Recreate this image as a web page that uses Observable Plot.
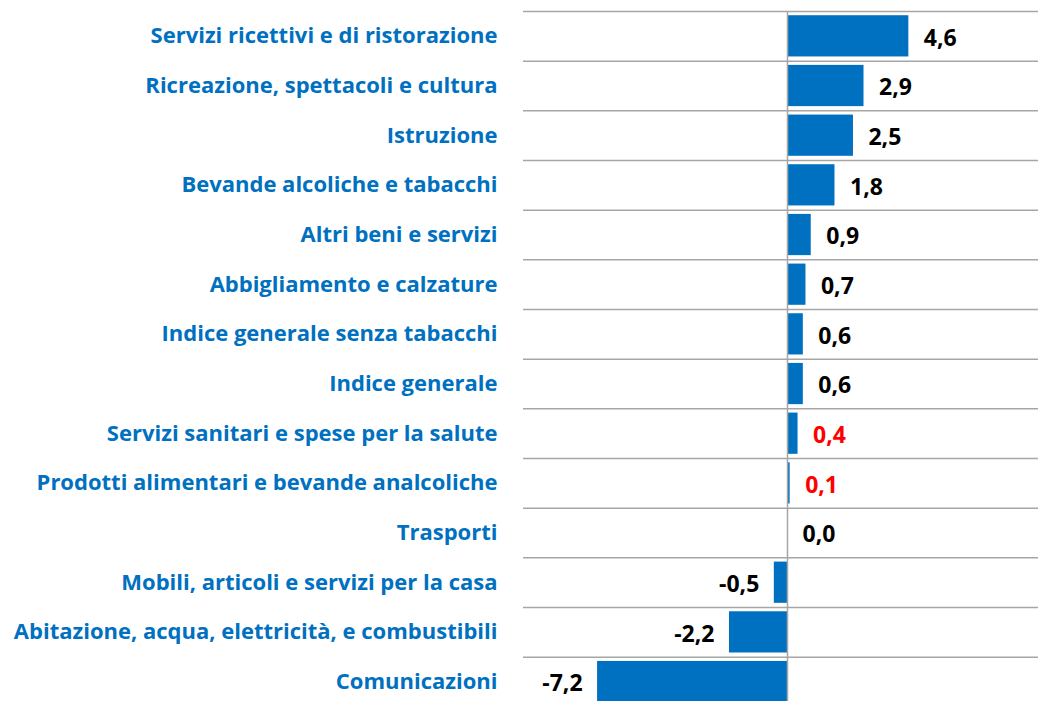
<!DOCTYPE html>
<html>
<head>
<meta charset="utf-8">
<script src="https://cdn.jsdelivr.net/npm/d3@7"></script>
<script src="https://cdn.jsdelivr.net/npm/@observablehq/plot@0.6"></script>
<style>
  html, body { margin: 0; padding: 0; background: #fff; }
  #chart { width: 1038px; height: 701px; overflow: hidden; }
</style>
</head>
<body>
<div id="chart"></div>
<script>
const categories = [
  "Servizi ricettivi e di ristorazione",
  "Ricreazione, spettacoli e cultura",
  "Istruzione",
  "Bevande alcoliche e tabacchi",
  "Altri beni e servizi",
  "Abbigliamento e calzature",
  "Indice generale senza tabacchi",
  "Indice generale",
  "Servizi sanitari e spese per la salute",
  "Prodotti alimentari e bevande analcoliche",
  "Trasporti",
  "Mobili, articoli e servizi per la casa",
  "Abitazione, acqua, elettricità, e combustibili",
  "Comunicazioni"
];
const values = [4.6, 2.9, 2.5, 1.8, 0.9, 0.7, 0.6, 0.6, 0.4, 0.1, 0.0, -0.5, -2.2, -7.2];
const highlighted = ["Servizi sanitari e spese per la salute", "Prodotti alimentari e bevande analcoliche"];

const data = categories.map((c, i) => ({category: c, value: values[i]}));
const fmt = v => v.toFixed(1).replace(".", ",");

const W = 1038, H = 701;
const y0 = 11, step = 49.67;
const y1 = y0 + step * categories.length;
const blue = "#0070C0";
const font = "'Open Sans', 'Noto Sans', sans-serif";

const chart = Plot.plot({
  width: W,
  height: H,
  marginLeft: 523,
  marginRight: 0,
  marginTop: y0,
  marginBottom: 0,
  style: {fontFamily: font, fontWeight: "bold", fontSize: "22px", background: "#fff", overflow: "hidden"},
  x: {domain: [-10.008, 9.515], axis: null},
  y: {domain: categories, range: [y0, y1], paddingInner: 0.17, paddingOuter: 0.085, round: false, label: null},
  marks: [
    Plot.ruleY(categories, {y: d => d, dy: -step / 2, stroke: "#a6a6a6", strokeWidth: 1.5}),
    Plot.barX(data, {x: "value", y: "category", fill: blue}),
    Plot.ruleX([0], {stroke: "#a6a6a6", strokeWidth: 1.5}),
    Plot.axisY({tickSize: 0, tickPadding: 26, fill: blue, fontSize: 22, fontWeight: "bold", textAnchor: "end", label: null}),
    Plot.text(data.filter(d => d.value >= 0), {
      x: "value", y: "category", text: d => fmt(d.value), textAnchor: "start", dx: 15, dy: 2,
      fill: d => highlighted.includes(d.category) ? "#FF0000" : "#000000", fontSize: 23, fontWeight: "bold"
    }),
    Plot.text(data.filter(d => d.value < 0), {
      x: "value", y: "category", text: d => fmt(d.value), textAnchor: "end", dx: -15, dy: 2,
      fill: "#000000", fontSize: 23, fontWeight: "bold"
    })
  ]
});
document.getElementById("chart").appendChild(chart);
</script>
</body>
</html>
